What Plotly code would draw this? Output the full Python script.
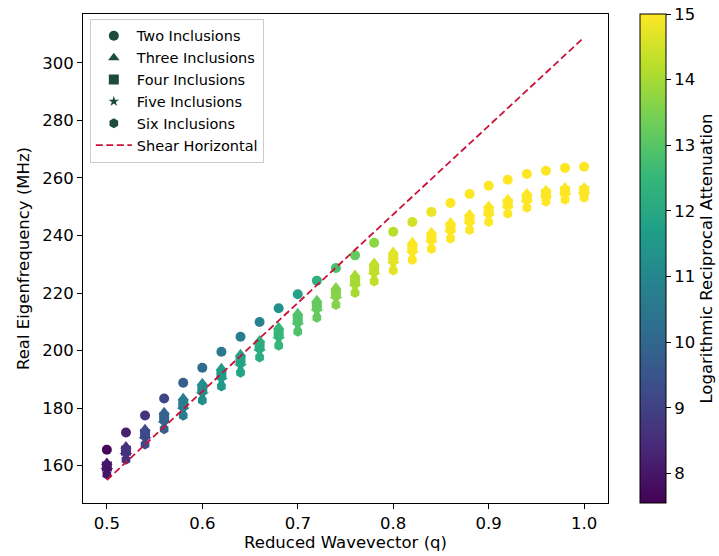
import plotly.graph_objects as go

q = [0.50, 0.52, 0.54, 0.56, 0.58, 0.60, 0.62, 0.64, 0.66, 0.68, 0.70, 0.72, 0.74,
     0.76, 0.78, 0.80, 0.82, 0.84, 0.86, 0.88, 0.90, 0.92, 0.94, 0.96, 0.98, 1.00]

f_two = [165.5, 171.5, 177.4, 183.3, 188.8, 194.0, 199.6, 204.8, 209.9, 214.7, 219.6, 224.3, 228.7,
         233.1, 237.5, 241.3, 244.7, 248.2, 251.3, 254.4, 257.3, 259.4, 261.4, 262.5, 263.5, 263.9]
f_three = [161.1, 166.8, 172.8, 178.7, 183.6, 188.8, 194.0, 198.9, 203.7, 208.3, 213.1, 217.7, 222.1,
           226.4, 230.6, 234.4, 237.8, 241.3, 244.7, 247.6, 250.4, 252.8, 254.8, 255.9, 256.9, 256.9]
f_four = [159.7, 165.2, 171.0, 176.7, 181.5, 186.7, 191.8, 196.7, 201.7, 206.1, 210.9, 215.6, 220.0,
          224.3, 228.4, 232.2, 235.7, 239.3, 242.8, 245.7, 248.5, 251.1, 253.1, 254.5, 255.4, 255.6]
f_five = [158.3, 163.6, 169.1, 174.6, 179.4, 184.7, 189.7, 194.5, 199.6, 203.9, 208.7, 213.5, 217.9,
          222.1, 226.2, 230.0, 233.6, 237.3, 240.8, 243.8, 246.6, 249.3, 251.3, 253.1, 253.9, 254.4]
f_six = [156.9, 162.0, 167.3, 172.6, 177.3, 182.6, 187.5, 192.3, 197.6, 201.7, 206.5, 211.4, 215.8,
         220.0, 224.0, 227.8, 231.5, 235.3, 238.9, 241.9, 244.7, 247.6, 249.6, 251.7, 252.4, 253.1]

a_two = [7.7, 8.2, 8.6, 9.1, 9.8, 10.2, 10.5, 10.7, 10.9, 11.3, 11.8, 12.3, 12.8,
         13.2, 13.7, 14.2, 14.5, 14.8, 15.0, 15.0, 15.0, 15.0, 15.0, 15.0, 15.0, 15.0]
a_three = [8.0, 8.6, 9.2, 9.9, 10.7, 11.2, 11.6, 11.9, 12.2, 12.5, 12.9, 13.2, 13.6,
           14.0, 14.3, 14.7, 15.0, 15.0, 15.0, 15.0, 15.0, 15.0, 15.0, 15.0, 15.0, 15.0]
a_four = [8.0, 8.6, 9.2, 9.9, 10.7, 11.2, 11.6, 11.9, 12.2, 12.5, 12.9, 13.2, 13.6,
          14.0, 14.3, 14.7, 15.0, 15.0, 15.0, 15.0, 15.0, 15.0, 15.0, 15.0, 15.0, 15.0]
a_five = [8.0, 8.6, 9.2, 9.9, 10.7, 11.2, 11.6, 11.9, 12.2, 12.5, 12.9, 13.2, 13.6,
          14.0, 14.3, 14.7, 15.0, 15.0, 15.0, 15.0, 15.0, 15.0, 15.0, 15.0, 15.0, 15.0]
a_six = [8.0, 8.6, 9.2, 9.9, 10.7, 11.2, 11.6, 11.9, 12.2, 12.5, 12.9, 13.2, 13.6,
         14.0, 14.3, 14.7, 15.0, 15.0, 15.0, 15.0, 15.0, 15.0, 15.0, 15.0, 15.0, 15.0]

sh_q = [0.5, 1.0]
sh_f = [155.0, 308.9]

names = ["Two Inclusions", "Three Inclusions", "Four Inclusions", "Five Inclusions", "Six Inclusions"]
symbols = ["circle", "triangle-up", "square", "star", "hexagon"]
series = [f_two, f_three, f_four, f_five, f_six]
atts = [a_two, a_three, a_four, a_five, a_six]

CMIN, CMAX = 7.55, 15.0
FONT = "DejaVu Sans"
legend_color = "#1f4b3f"

fig = go.Figure()
for i, (nm, sym, fv, av) in enumerate(zip(names, symbols, series, atts)):
    marker = dict(symbol=sym, size=10, color=av, colorscale="Viridis",
                  cmin=CMIN, cmax=CMAX, line=dict(width=0))
    if i == 0:
        marker.update(showscale=True, colorbar=dict(
            x=1.061, xanchor="left", xref="paper", xpad=0,
            y=0.5, yanchor="middle", ypad=0,
            len=1.0, lenmode="fraction", thickness=26, thicknessmode="pixels",
            outlinecolor="black", outlinewidth=1,
            tickmode="array", tickvals=[8, 9, 10, 11, 12, 13, 14, 15],
            ticks="outside", ticklen=5, tickcolor="black",
            tickfont=dict(family=FONT, size=16.5, color="black"),
            title=dict(text="Logarithmic Reciprocal Attenuation", side="right",
                       font=dict(family=FONT, size=16.5, color="black"))))
    fig.add_trace(go.Scatter(x=q, y=fv, mode="markers", marker=marker,
                             showlegend=False, name=nm))

# legend entries
for nm, sym in zip(names, symbols):
    fig.add_trace(go.Scatter(x=[None], y=[None], mode="markers", name=nm,
                             legendgroup=nm,
                             marker=dict(symbol=sym, size=10 if sym != "star" else 8,
                                         color=legend_color, line=dict(width=0))))

fig.add_trace(go.Scatter(x=sh_q, y=sh_f, mode="lines", name="Shear Horizontal",
                         legendgroup="sh",
                         line=dict(color="#cc1139", width=1.8, dash="7px,3.5px")))

fig.update_layout(
    width=719, height=556,
    margin=dict(l=83, r=111, t=14, b=53, autoexpand=False),
    paper_bgcolor="white", plot_bgcolor="white",
    font=dict(family=FONT, size=16.5, color="black"),
    legend=dict(x=0.013, y=0.99, xanchor="left", yanchor="top",
                bgcolor="white", bordercolor="#cccccc", borderwidth=1,
                font=dict(family=FONT, size=14.5, color="black"),
                tracegroupgap=0, itemwidth=36),
)
fig.update_xaxes(range=[0.475, 1.025], tickmode="array",
                 tickvals=[0.5, 0.6, 0.7, 0.8, 0.9, 1.0],
                 ticktext=["0.5", "0.6", "0.7", "0.8", "0.9", "1.0"],
                 showline=True, linecolor="black", linewidth=1, mirror=True,
                 ticks="outside", ticklen=5, tickcolor="black", showgrid=False, zeroline=False,
                 tickfont=dict(family=FONT, size=16.5),
                 title=dict(text="Reduced Wavevector (q)", standoff=4,
                            font=dict(family=FONT, size=16.5)))
fig.update_yaxes(range=[147.0, 317.0], tickmode="array",
                 tickvals=[160, 180, 200, 220, 240, 260, 280, 300],
                 showline=True, linecolor="black", linewidth=1, mirror=True,
                 ticks="outside", ticklen=5, tickcolor="black", showgrid=False, zeroline=False,
                 tickfont=dict(family=FONT, size=16.5),
                 title=dict(text="Real Eigenfrequency (MHz)", standoff=8,
                            font=dict(family=FONT, size=16.5)))

fig.write_html("out.html")
